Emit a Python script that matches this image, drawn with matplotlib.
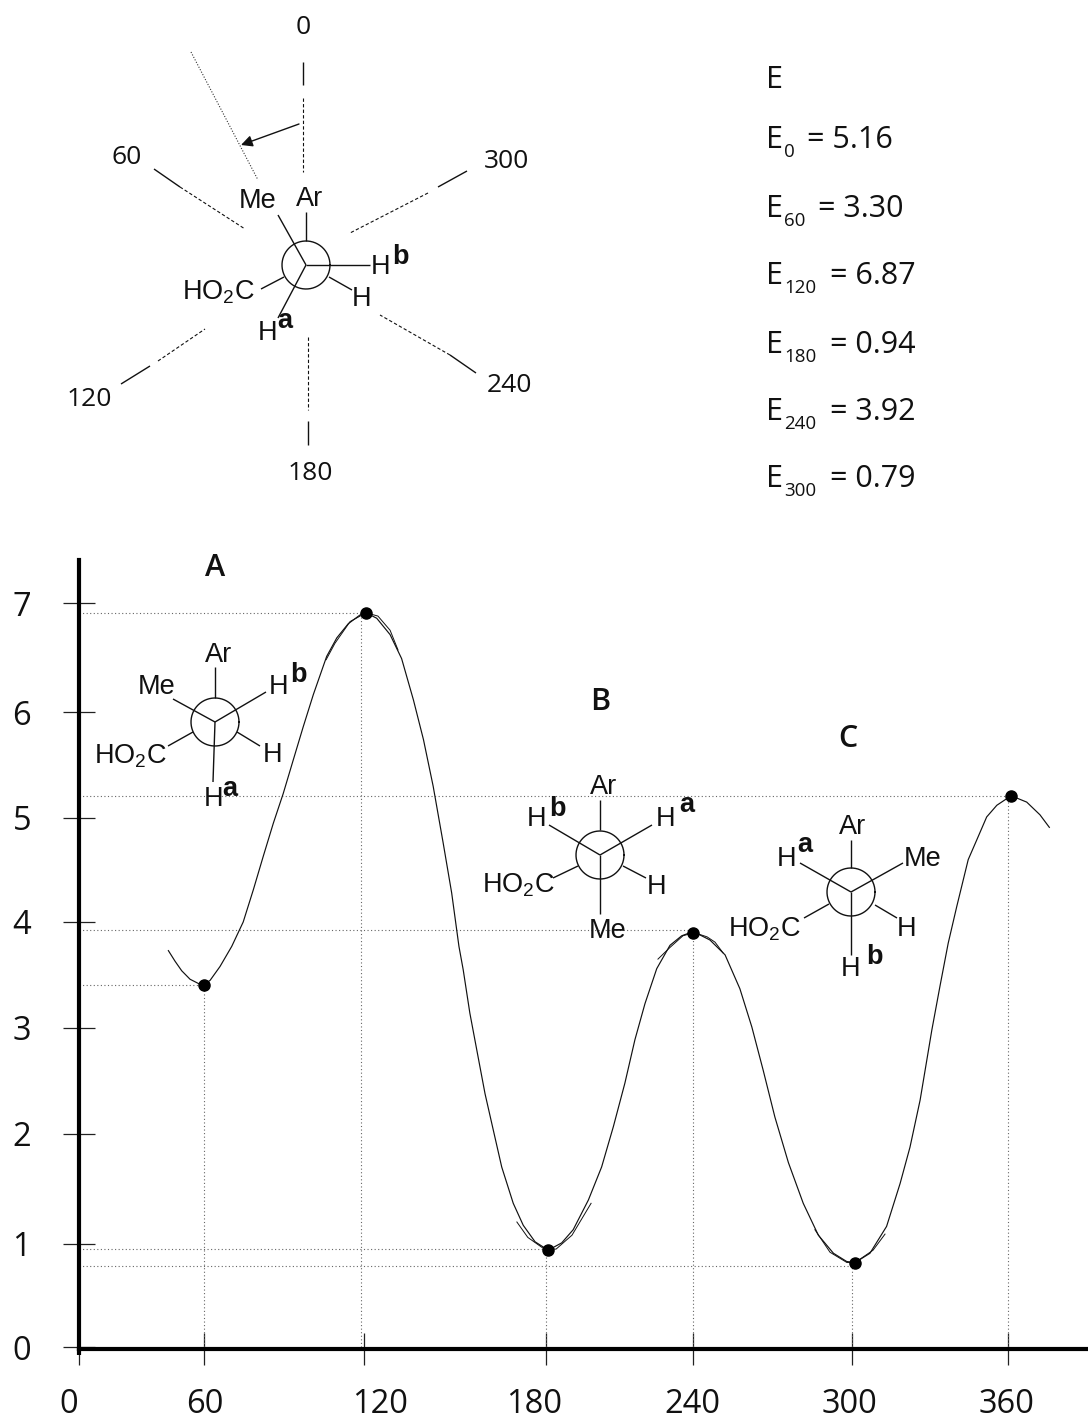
import numpy as np
import matplotlib
matplotlib.use("Agg")
import matplotlib.pyplot as plt
from matplotlib.transforms import ScaledTranslation

plt.rcParams['font.family'] = ['Open Sans', 'DejaVu Sans']
plt.rcParams['mathtext.default'] = 'regular'

# energy curve
angle = [42.9, 46.1, 49.3, 53.3, 57.3, 60, 62.3, 66, 70.4, 74.7, 78.5, 82.2, 86, 89.7,
         93.5, 97.2, 101, 106, 109.8, 114.1, 118.5, 120.7, 124.2, 128.6, 132.4, 136.3,
         139.6, 142.8, 146.1, 148.9, 151.3, 152.7, 154.9, 157.2, 159.9, 162.6, 165.4,
         169.2, 172.5, 176.4, 180.9, 186.4, 191.1, 197.3, 202.7, 207.5, 212.2, 216.3,
         220.4, 225.2, 230.6, 235.4, 240.1, 246.4, 252.1, 257.7, 262.2, 266.5, 270.9,
         276, 281.6, 287.3, 293, 298, 301.2, 306.9, 313.3, 318.5, 322.3, 326.2, 330.7,
         333.8, 337, 340.3, 344.7, 348, 351.8, 355.7, 361.2, 367.2, 372.3, 375.9]
energy = [3.73, 3.63, 3.54, 3.46, 3.42, 3.41, 3.45, 3.58, 3.77, 4.00, 4.31, 4.63, 4.95, 5.23,
          5.55, 5.86, 6.16, 6.51, 6.68, 6.81, 6.89, 6.91, 6.86, 6.71, 6.49, 6.11,
          5.74, 5.30, 4.76, 4.28, 3.77, 3.55, 3.14, 2.79, 2.38, 2.04, 1.70,
          1.37, 1.17, 1.02, 0.94, 1.01, 1.13, 1.40, 1.70, 2.07, 2.48, 2.89,
          3.23, 3.56, 3.78, 3.87, 3.91, 3.83, 3.69, 3.37, 3.01, 2.60, 2.16,
          1.74, 1.37, 1.08, 0.91, 0.83, 0.82, 0.91, 1.16, 1.55, 1.88, 2.32, 2.98,
          3.39, 3.80, 4.15, 4.60, 4.79, 5.01, 5.12, 5.21, 5.15, 5.03, 4.91]

# short fitted arcs drawn over the extrema
arc_120_x = [105.8, 109.1, 114.8, 120.7, 124.6, 128.6, 131.2]
arc_120_y = [6.48, 6.63, 6.83, 6.91, 6.88, 6.75, 6.57]
arc_180_x = [170.4, 174, 179, 184.1, 190.6, 198.4]
arc_180_y = [1.20, 1.06, 0.96, 0.95, 1.08, 1.37]
arc_240_x = [225.7, 230.6, 235.9, 240.4, 245.3, 248.3, 251.3]
arc_240_y = [3.65, 3.76, 3.87, 3.90, 3.86, 3.81, 3.71]
arc_300_x = [286, 291.7, 298.1, 301.2, 308.1, 312.7]
arc_300_y = [1.13, 0.92, 0.82, 0.82, 0.94, 1.09]

point_angle = [60, 120.7, 180.8, 240, 301.2, 361.2]
point_energy = [3.41, 6.91, 0.94, 3.90, 0.82, 5.21]
guide_x = [60, 119, 180, 240, 300, 360]
guide_y = [3.41, 6.91, 0.95, 3.92, 0.79, 5.21]

xticks = [0, 60, 120, 180, 240, 300, 360]
yticks = [0, 1, 2, 3, 4, 5, 6, 7]
xtick_shift = [-10, 1, 16, -12, -1, -3, -1]

energy_sub = ['0', '60', '120', '180', '240', '300']
energy_val = ['= 5.16', '= 3.30', '= 6.87', '= 0.94', '= 3.92', '= 0.79']
energy_base = [148, 217, 284, 353, 420, 487]
energy_val_x = [807, 818, 830, 830, 830, 830]

# the hand-drawn axis is not evenly spaced, so map ticks to where they sit
x_nodes = [-60, 0, 60, 120, 180, 240, 300, 360, 420]
x_px = [-46, 79, 204, 364, 546, 693, 852, 1008, 1164]
y_nodes = [-1, 0, 1, 2, 3, 4, 5, 6, 7, 8]
y_px = [-1450, -1347, -1244, -1134, -1028, -922, -818, -712, -603, -494]

W, H = 1088, 1419
LABEL_FONT = 'Liberation Sans'
INK = '#111111'


def x_forward(v):
    return np.interp(v, x_nodes, x_px)


def x_inverse(v):
    return np.interp(v, x_px, x_nodes)


def y_forward(v):
    return np.interp(v, y_nodes, y_px)


def y_inverse(v):
    return np.interp(v, y_px, y_nodes)


fig = plt.figure(figsize=(W / 100, H / 100), dpi=100)

# pixel overlay for the drawings above and inside the plot
pix = fig.add_axes([0, 0, 1, 1], zorder=3)
pix.set_xlim(0, W)
pix.set_ylim(H, 0)
pix.axis('off')
pix.patch.set_alpha(0)

ax = fig.add_axes([79 / W, 1 - 1349 / H, (W - 79) / W, (1349 - 560) / H], zorder=1)
ax.set_xscale('function', functions=(x_forward, x_inverse))
ax.set_yscale('function', functions=(y_forward, y_inverse))
ax.set_xlim(0, x_inverse(1088))
ax.set_ylim(y_inverse(-1349), y_inverse(-560))

ax.spines['top'].set_visible(False)
ax.spines['right'].set_visible(False)
ax.spines['left'].set_linewidth(3)
ax.spines['bottom'].set_linewidth(3)
ax.set_xticks(xticks)
ax.set_yticks(yticks)
ax.minorticks_off()
ax.tick_params(axis='both', direction='inout', length=23, width=0.9, color='#222222',
               labelsize=23.5, pad=16.5, labelcolor=INK)
ax.tick_params(axis='y', pad=23)

for label, dx in zip(ax.get_xticklabels(), xtick_shift):
    label.set_transform(label.get_transform() + ScaledTranslation(dx / 100, 0, fig.dpi_scale_trans))

# guide lines
dot_style = dict(color='#666666', lw=0.8, linestyle=(0, (1, 2.2)))
for a, e, top in zip(guide_x, guide_y, point_energy):
    ax.plot([a, a], [0, top], **dot_style)
    ax.plot([0, a], [e, e], **dot_style)

ax.plot(angle, energy, color=INK, lw=0.85)
for arc_x, arc_y in [(arc_120_x, arc_120_y), (arc_180_x, arc_180_y),
                     (arc_240_x, arc_240_y), (arc_300_x, arc_300_y)]:
    ax.plot(arc_x, arc_y, color=INK, lw=0.7)
ax.plot(point_angle, point_energy, 'o', color='black', ms=8, zorder=5)
ax.plot([0, 0], [0, y_inverse(-1355)], color='black', lw=3, clip_on=False, solid_capstyle='butt')


def seg(p0, p1, lw=1.0, **kw):
    pix.plot([p0[0], p1[0]], [p0[1], p1[1]], color=INK, lw=lw, solid_capstyle='butt', **kw)


def dash(p0, p1):
    pix.plot([p0[0], p1[0]], [p0[1], p1[1]], color=INK, lw=0.8, linestyle=(0, (3, 2)))


def chem(x, y, s, size=19.5, **kw):
    pix.text(x, y + 1.5, s, fontsize=size, family=LABEL_FONT, ha='center', va='center', color=INK, **kw)


def newman(cx, cy, front, back):
    t = np.linspace(0, 2 * np.pi, 60)
    pix.plot(cx + 24 * np.cos(t), cy + 24 * np.sin(t), color=INK, lw=1.0)
    for p in front:
        seg((cx, cy), (cx + p[0], cy + p[1]))
    for p in back:
        seg((cx + p[0], cy + p[1]), (cx + p[2], cy + p[3]))


# top projection with the rotation spokes
newman(306, 265, [(-28, -50), (64, 0), (-28, 53)], [(0, -24, 0, -53), (-22, 12, -45, 24), (23, 12, 46, 25)])
seg((303, 62), (303, 85))
dash((303, 98), (303, 172))
seg((154, 169), (180, 187))
dash((180, 187), (245, 229))
seg((467, 171), (438, 187))
dash((428, 193), (350, 233))
seg((121, 384), (150, 366))
dash((158, 361), (205, 329))
seg((476, 373), (450, 355))
dash((450, 355), (380, 315))
dash((308, 337), (308, 410))
seg((308, 421), (308, 445))
pix.plot([191, 258], [52, 180], color='#333333', lw=0.8, linestyle=(0, (1, 1.5)))
pix.annotate('', xy=(241, 145), xytext=(299, 124),
             arrowprops=dict(arrowstyle='-|>', color=INK, lw=1.0, mutation_scale=17, shrinkA=0, shrinkB=0))

for x, y, s in [(303, 27, '0'), (127, 157, '60'), (506, 162, '300'), (89, 400, '120'),
                (509, 386, '240'), (310, 473, '180')]:
    pix.text(x, y, s, fontsize=19, ha='center', va='center', color=INK)

chem(258, 200, 'Me')
chem(310, 197, 'Ar')
chem(381, 265, 'H')
chem(400, 255, 'b', weight='bold')
chem(218, 291, 'HO$_2$C')
chem(362, 298, 'H')
chem(268, 331, 'H')
chem(285, 320, 'a', weight='bold')

# conformer A
newman(215, 722, [(-42, -23), (51, -30), (-2, 60)], [(0, -24, 0, -55), (-22, 10, -47, 24), (22, 10, 45, 24)])
chem(219, 653, 'Ar')
chem(157, 685, 'Me')
chem(279, 685, 'H')
chem(298, 673, 'b', weight='bold')
chem(130, 755, 'HO$_2$C')
chem(273, 754, 'H')
chem(214, 797, 'H')
chem(230, 788, 'a', weight='bold')

# conformer B
newman(600, 855, [(-51, -30), (52, -30), (0, 59)], [(0, -25, 0, -55), (-22, 11, -47, 23), (23, 11, 46, 23)])
chem(604, 786, 'Ar')
chem(537, 817, 'H')
chem(557, 807, 'b', weight='bold')
chem(666, 818, 'H')
chem(687, 804, 'a', weight='bold')
chem(518, 884, 'HO$_2$C')
chem(657, 886, 'H')
chem(608, 930, 'Me')

# conformer C
newman(851, 892, [(-51, -29), (52, -29), (0, 63)], [(0, -24, 0, -52), (-22, 12, -47, 26), (24, 13, 46, 26)])
chem(853, 825, 'Ar')
chem(787, 857, 'H')
chem(805, 843, 'a', weight='bold')
chem(923, 858, 'Me')
chem(764, 928, 'HO$_2$C')
chem(907, 928, 'H')
chem(851, 968, 'H')
chem(874, 955, 'b', weight='bold')

for x, y, s in [(215, 568, 'A'), (600, 702, 'B'), (848, 739, 'C')]:
    pix.text(x, y, s, fontsize=22, weight='semibold', ha='center', va='center', color=INK)

# energy list
pix.text(766, 88, 'E', fontsize=22, ha='left', va='baseline', color=INK)
for sub, val, base, val_x in zip(energy_sub, energy_val, energy_base, energy_val_x):
    pix.text(766, base, 'E', fontsize=22, ha='left', va='baseline', color=INK)
    pix.text(784, base + 9, sub, fontsize=13.5, ha='left', va='baseline', color=INK)
    pix.text(val_x, base, val, fontsize=22, ha='left', va='baseline', color=INK)

fig.savefig('out.png', dpi=100)
